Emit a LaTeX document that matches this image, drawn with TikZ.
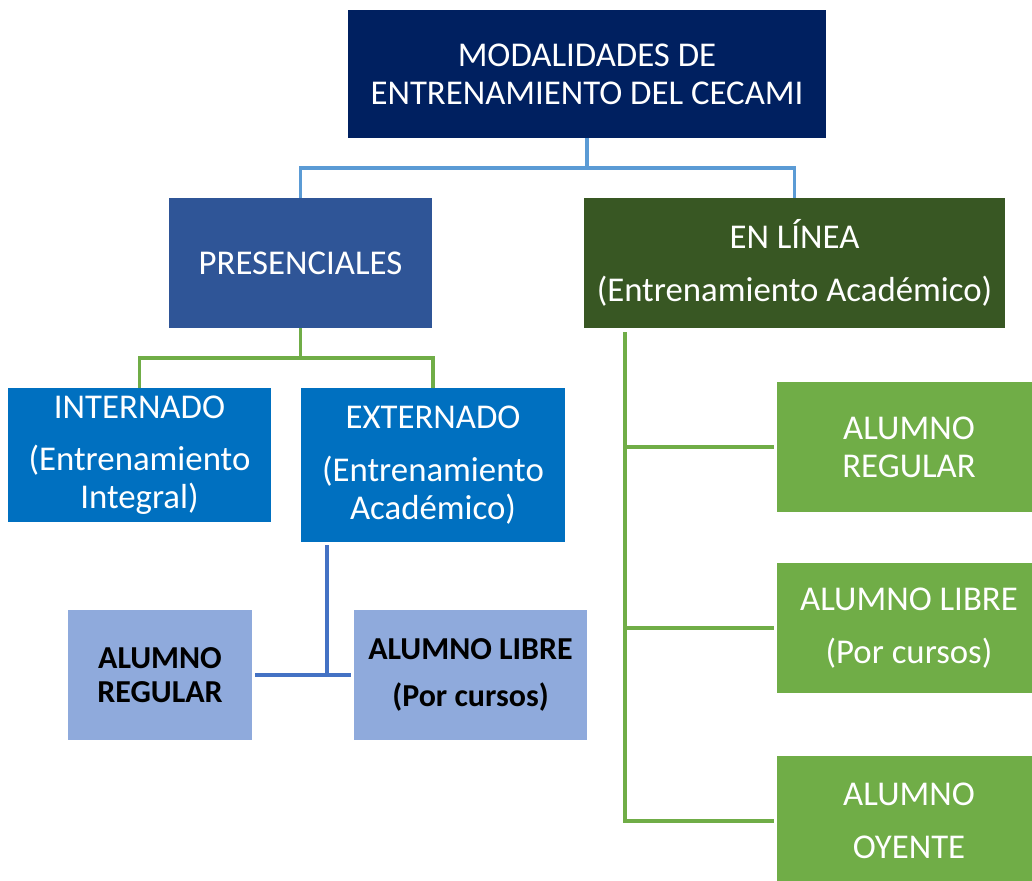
\documentclass[tikz,border=0pt]{standalone}
\usepackage{fontspec}
\setmainfont{Carlito}
\usepackage{tikz}
\usepackage{color}
\definecolor{marino}{HTML}{002060}
\definecolor{azulpres}{HTML}{2F5597}
\definecolor{verdeosc}{HTML}{385723}
\definecolor{azulmod}{HTML}{0070C0}
\definecolor{azulclaro}{HTML}{8FAADC}
\definecolor{verdealu}{HTML}{70AD47}
\definecolor{celeste}{HTML}{5B9BD5}
\definecolor{azullin}{HTML}{4472C4}

\begin{document}
\begin{tikzpicture}[x=0.02cm,y=-0.02cm,
  caja/.style={inner sep=0pt, outer sep=0pt, align=center, text=white,
    font=\fontsize{19.8}{21.5}\selectfont},
  cajab/.style={caja, text=black, fill=azulclaro,
    font=\fontsize{18.2}{19.3}\selectfont\bfseries},
  linea/.style={line width=2pt}]
\useasboundingbox (0,0) rectangle (1032,880);
%% nivel superior
\node[caja, fill=marino, minimum width=9.56cm, minimum height=2.56cm] (cecami) at (587,74)
  {MODALIDADES DE\\ENTRENAMIENTO DEL CECAMI};
%% modalidades
\node[caja, fill=azulpres, minimum width=5.26cm, minimum height=2.6cm] (pres) at (300.5,263) {PRESENCIALES};
\node[caja, fill=verdeosc, minimum width=8.42cm, minimum height=2.6cm] (enl) at (794.5,263)
  {EN LÍNEA\\[8.5pt](Entrenamiento Académico)};
%% presenciales
\node[caja, fill=azulmod, minimum width=5.26cm, minimum height=2.68cm] (intern) at (139.5,455)
  {INTERNADO\\[8.5pt](Entrenamiento\\Integral)};
\node[caja, fill=azulmod, minimum width=5.28cm, minimum height=3.08cm] (extern) at (433,465)
  {EXTERNADO\\[9pt](Entrenamiento\\Académico)};
\node[cajab, minimum width=3.68cm, minimum height=2.6cm] (lreg) at (160,675) {ALUMNO\\REGULAR};
\node[cajab, minimum width=4.66cm, minimum height=2.6cm] (llib) at (470.5,675)
  {ALUMNO LIBRE\\[7.3pt](Por cursos)};
%% en linea
\node[caja, fill=verdealu, minimum width=5.28cm, minimum height=2.6cm] (greg) at (909,447) {ALUMNO\\REGULAR};
\node[caja, fill=verdealu, minimum width=5.28cm, minimum height=2.6cm] (glib) at (909,628)
  {ALUMNO LIBRE\\[8.5pt](Por cursos)};
\node[caja, fill=verdealu, minimum width=5.28cm, minimum height=2.6cm] (goy) at (909,821)
  {ALUMNO\\[9pt]OYENTE};
%% conectores
\draw[linea, celeste] (cecami.south) -- ++(0,30) -| (pres.north);
\draw[linea, celeste] (cecami.south) ++(0,30) -| (enl.north);
\draw[linea, verdealu] (pres.south) -- ++(0,30) -| (intern.north);
\draw[linea, verdealu] (pres.south) ++(0,30) -| (extern.north);
\coordinate (extb) at (327,545);
\draw[linea, azullin, shorten >=2pt] (extb) |- (lreg.east);
\draw[linea, azullin, shorten >=2pt] (extb) |- (llib.west);
\coordinate (enlb) at (625,332);
\draw[linea, verdealu, shorten >=2pt] (enlb) |- (greg.west);
\draw[linea, verdealu, shorten >=2pt] (enlb) |- (glib.west);
\draw[linea, verdealu, shorten >=2pt] (enlb) |- (goy.west);
\end{tikzpicture}
\end{document}
